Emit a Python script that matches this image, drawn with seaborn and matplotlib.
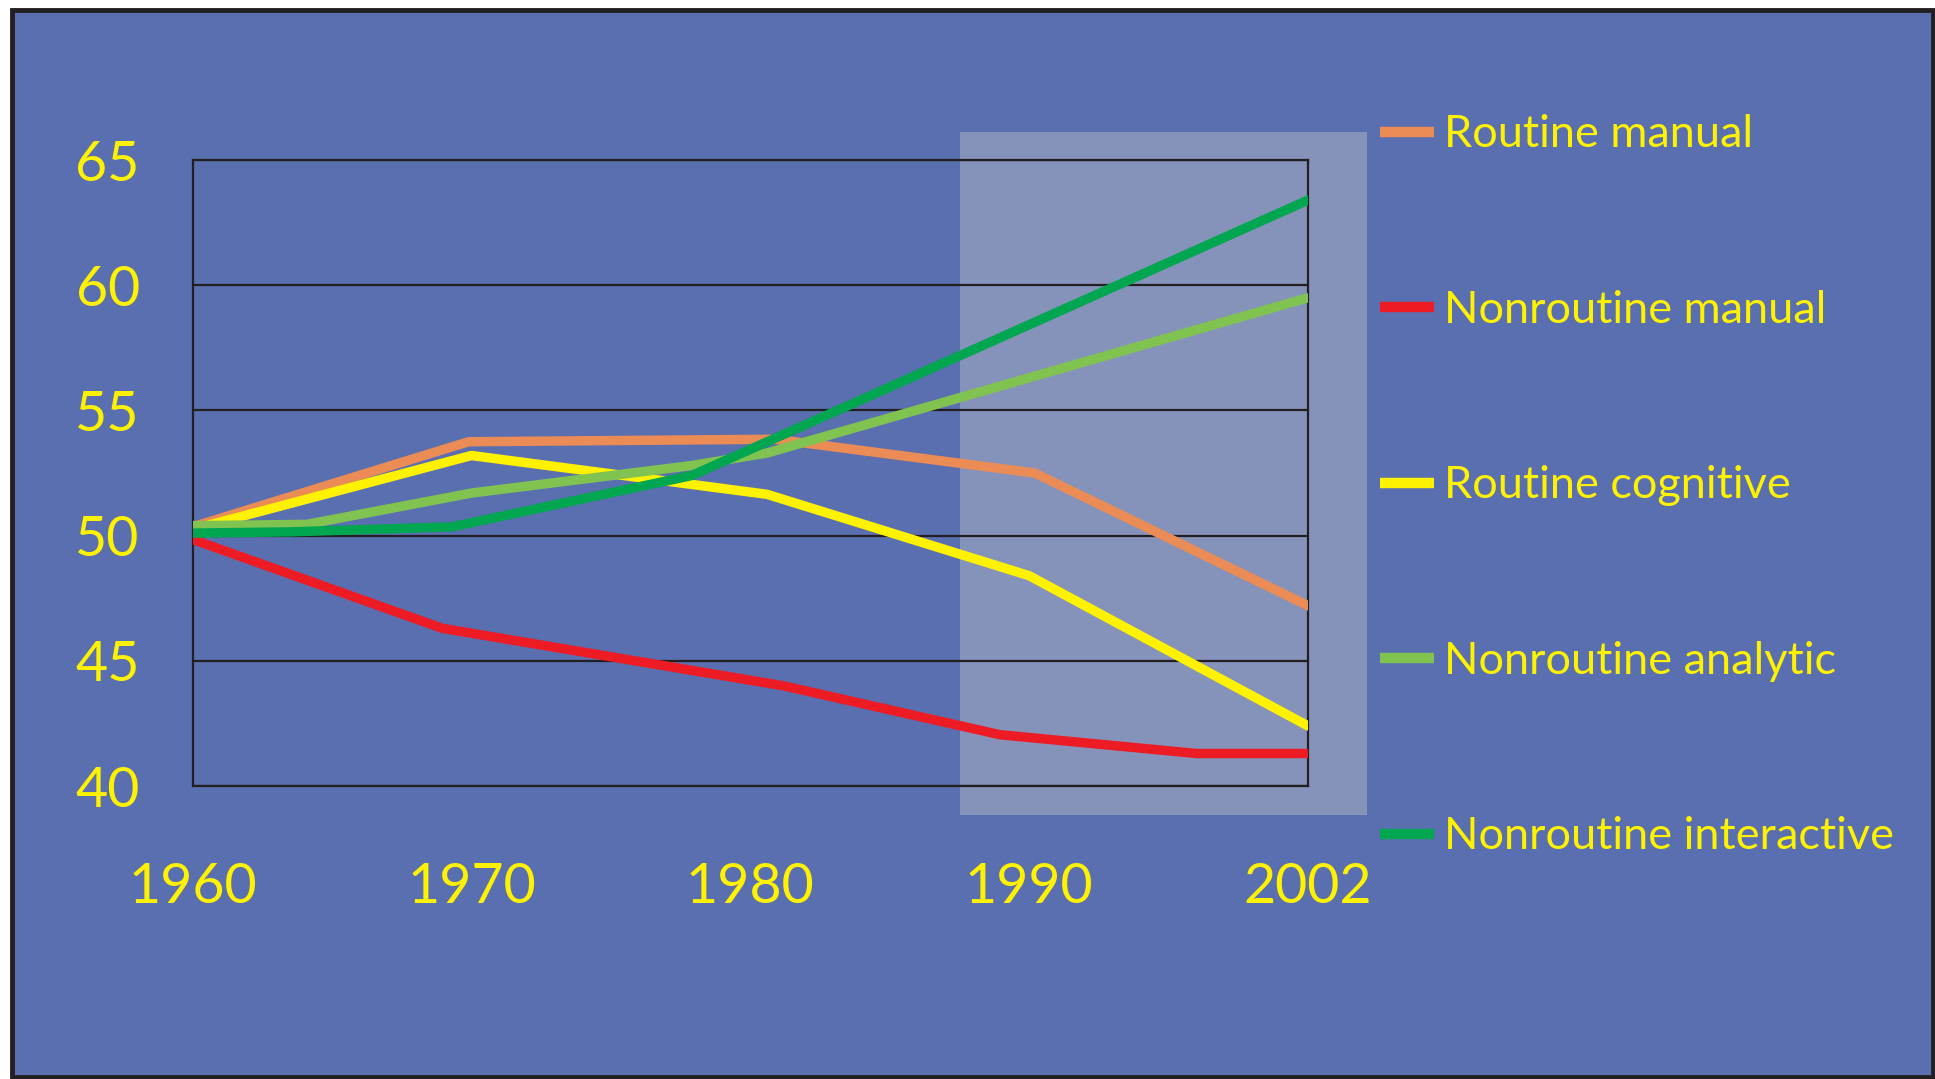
import pandas as pd
import matplotlib.pyplot as plt
import seaborn as sns
from matplotlib.patches import Rectangle

# category positions on the x axis
years = ['1960', '1970', '1980', '1990', '2002']
y_ticks = [40, 45, 50, 55, 60, 65]

# each series (x = position between year ticks)
routine_manual_x = [0, 0.99, 2.09, 3.02, 4.0]
routine_manual_y = [50.35, 53.75, 53.85, 52.5, 47.2]

nonroutine_manual_x = [0, 0.895, 2.12, 2.895, 3.6, 4.0]
nonroutine_manual_y = [49.85, 46.3, 44.0, 42.05, 41.3, 41.3]

routine_cognitive_x = [0, 1.0, 2.06, 3.0, 4.0]
routine_cognitive_y = [50.25, 53.2, 51.65, 48.4, 42.4]

nonroutine_analytic_x = [0, 0.41, 1.0, 1.79, 2.06, 4.0]
nonroutine_analytic_y = [50.4, 50.45, 51.7, 52.8, 53.3, 59.5]

nonroutine_interactive_x = [0, 0.35, 0.93, 1.79, 4.0]
nonroutine_interactive_y = [50.1, 50.15, 50.35, 52.4, 63.4]

series = ['Routine manual', 'Nonroutine manual', 'Routine cognitive',
          'Nonroutine analytic', 'Nonroutine interactive']
colors = ['#EB8B55', '#ED1C24', '#FFF200', '#80C350', '#00A650']

xs = [routine_manual_x, nonroutine_manual_x, routine_cognitive_x,
      nonroutine_analytic_x, nonroutine_interactive_x]
ys = [routine_manual_y, nonroutine_manual_y, routine_cognitive_y,
      nonroutine_analytic_y, nonroutine_interactive_y]

rows = []
for name, x, y in zip(series, xs, ys):
    for a, b in zip(x, y):
        rows.append({'pos': a, 'value': b, 'series': name})
df = pd.DataFrame(rows)

bg = '#5A6FB0'
shade = '#8592BA'
txt = '#FFF200'

sns.set_style('white')
plt.rcParams['font.family'] = ['Lato', 'DejaVu Sans']

fig = plt.figure(figsize=(19.35, 10.79), dpi=100, facecolor='white')
fig.patches.append(Rectangle((12 / 1935, 2 / 1079), 1921 / 1935, 1067 / 1079,
                             transform=fig.transFigure, facecolor=bg,
                             edgecolor='#231F20', linewidth=3.5, zorder=-1))

ax = fig.add_axes([0.0995, 0.2715, 0.5765, 0.5802])
ax.set_facecolor('none')

# highlighted period
ax.add_patch(Rectangle((0.688, -0.046), 0.365, 1.091, transform=ax.transAxes,
                       facecolor=shade, edgecolor='none', clip_on=False, zorder=0))

sns.lineplot(data=df, x='pos', y='value', hue='series', hue_order=series,
             palette=dict(zip(series, colors)), estimator=None, sort=False,
             linewidth=6.8, ax=ax, zorder=3)

ax.set_xlim(0, 4)
ax.set_ylim(40, 65)
ax.set_xticks(range(len(years)))
ax.set_xticklabels(years)
ax.set_yticks(y_ticks)
ax.set_xlabel('')
ax.set_ylabel('')
ax.set_axisbelow(True)
ax.yaxis.grid(True, color='#231F20', linewidth=1.6)
ax.xaxis.grid(False)
for s in ax.spines.values():
    s.set_visible(True)
    s.set_color('#231F20')
    s.set_linewidth(1.6)
ax.tick_params(axis='x', length=0, pad=55, labelsize=40, labelcolor=txt)
ax.tick_params(axis='y', length=0, pad=38, labelsize=40, labelcolor=txt)

leg = ax.legend(loc='upper left', bbox_to_anchor=(0.7133, 0.894),
                bbox_transform=fig.transFigure, frameon=False, fontsize=32.5,
                handlelength=1.2, handletextpad=0.22, labelspacing=2.98,
                borderpad=0, borderaxespad=0)
for t in leg.get_texts():
    t.set_color(txt)
for h in leg.get_lines():
    h.set_linewidth(7.5)
    h.set_solid_capstyle('butt')

fig.savefig('out.png', dpi=100, facecolor='white')
